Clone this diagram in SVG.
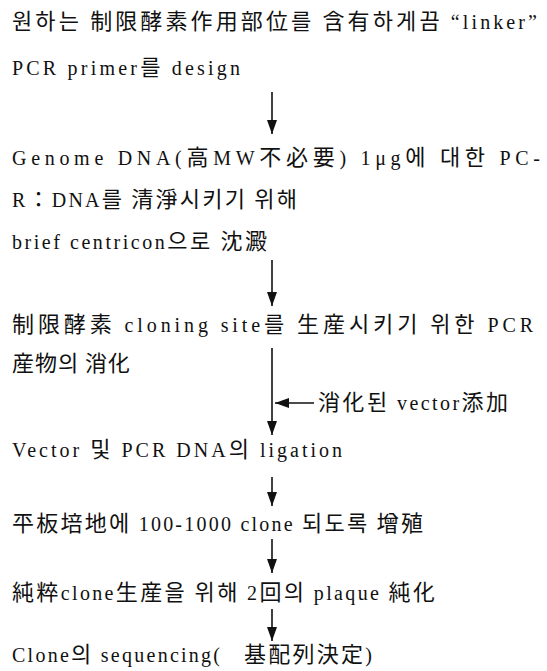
<svg xmlns="http://www.w3.org/2000/svg" width="547" height="671" viewBox="0 0 547 671">
<style>
  text { font-family: "Liberation Serif", "Noto Sans CJK KR", serif; font-size: 20px; fill: #111; white-space: pre; }
  .k { font-family: "Noto Sans CJK KR", "Noto Sans CJK SC", sans-serif; font-size: 22px; }
  .line { stroke: #111; stroke-width: 1.6; fill: none; }
</style>
<defs>
  <marker id="ah" viewBox="0 0 14 10" refX="14" refY="5" markerWidth="14" markerHeight="10" markerUnits="userSpaceOnUse" orient="auto">
    <path d="M0,0 L14,5 L0,10 Z" fill="#111"/>
  </marker>
</defs>
<rect width="547" height="671" fill="#fff"/>
<g id="n1">
  <text x="12" y="29" textLength="525" lengthAdjust="spacing"><tspan class="k">원하는</tspan> <tspan class="k">制限酵素作用部位를</tspan> <tspan class="k">含有하게끔</tspan> “linker”</text>
  <text x="12" y="75" textLength="228" lengthAdjust="spacing">PCR primer<tspan class="k">를</tspan> design</text>
</g>
<g id="n2">
  <text x="12" y="165" textLength="528" lengthAdjust="spacing">Genome DNA(<tspan class="k">高</tspan>MW<tspan class="k">不必要</tspan>) 1μg<tspan class="k">에</tspan> <tspan class="k">대한</tspan> PC-</text>
  <text x="12" y="207" textLength="285" lengthAdjust="spacing">R<tspan class="k">：</tspan>DNA<tspan class="k">를</tspan> <tspan class="k">清淨시키기</tspan> <tspan class="k">위해</tspan></text>
  <text x="12" y="249" textLength="255" lengthAdjust="spacing">brief centricon<tspan class="k">으로</tspan> <tspan class="k">沈澱</tspan></text>
</g>
<g id="n3">
  <text x="12" y="332" textLength="521" lengthAdjust="spacing"><tspan class="k">制限酵素</tspan> cloning site<tspan class="k">를</tspan> <tspan class="k">生産시키기</tspan> <tspan class="k">위한</tspan> PCR</text>
  <text x="12" y="371" textLength="118" lengthAdjust="spacing"><tspan class="k">産物의</tspan> <tspan class="k">消化</tspan></text>
</g>
<g id="n4">
  <text x="318" y="410" textLength="190" lengthAdjust="spacing"><tspan class="k">消化된</tspan> vector<tspan class="k">添加</tspan></text>
</g>
<g id="n5">
  <text x="12" y="457" textLength="330" lengthAdjust="spacing">Vector <tspan class="k">및</tspan> PCR DNA<tspan class="k">의</tspan> ligation</text>
</g>
<g id="n6">
  <text x="12" y="531" textLength="411" lengthAdjust="spacing"><tspan class="k">平板培地에</tspan> 100-1000 clone <tspan class="k">되도록</tspan> <tspan class="k">增殖</tspan></text>
</g>
<g id="n7">
  <text x="12" y="600" textLength="423" lengthAdjust="spacing"><tspan class="k">純粹</tspan>clone<tspan class="k">生産을</tspan> <tspan class="k">위해</tspan> 2<tspan class="k">回의</tspan> plaque <tspan class="k">純化</tspan></text>
</g>
<g id="n8">
  <text x="12" y="662" textLength="360" lengthAdjust="spacing">Clone<tspan class="k">의</tspan> sequencing(   <tspan class="k">基配列決定</tspan>)</text>
</g>
<g id="connectors">
  <line class="line" x1="272" y1="92" x2="272" y2="134" marker-end="url(#ah)"/>
  <line class="line" x1="272" y1="260" x2="272" y2="306" marker-end="url(#ah)"/>
  <line class="line" x1="272" y1="348" x2="272" y2="435" marker-end="url(#ah)"/>
  <line class="line" x1="314" y1="403" x2="275" y2="403" marker-end="url(#ah)"/>
  <line class="line" x1="272" y1="477" x2="272" y2="506" marker-end="url(#ah)"/>
  <line class="line" x1="272" y1="539" x2="272" y2="573" marker-end="url(#ah)"/>
  <line class="line" x1="272" y1="609" x2="272" y2="641" marker-end="url(#ah)"/>
</g>
</svg>
